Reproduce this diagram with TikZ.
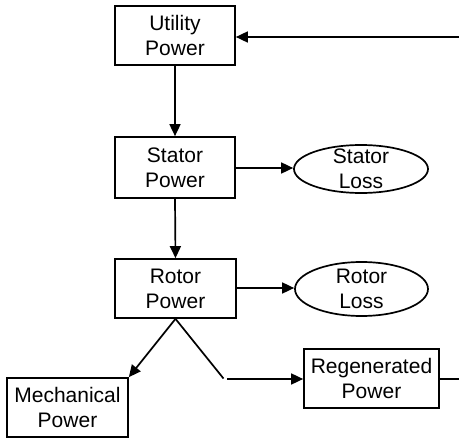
\documentclass[tikz,border=0pt]{standalone}
\usepackage{fontspec}
\setmainfont{Liberation Sans}
\usetikzlibrary{shapes.geometric,arrows.meta}
\begin{document}
\begin{tikzpicture}[x=1pt,y=-1pt,
  box/.style={draw,line width=1.7pt,rectangle,align=center,inner sep=0pt,font=\fontsize{21}{25}\selectfont},
  oval/.style={draw,line width=1.7pt,ellipse,align=center,inner sep=0pt,font=\fontsize{21}{25}\selectfont},
  arr/.style={line width=1.7pt,-{Triangle[length=12pt,width=11pt]}},
  ln/.style={line width=1.7pt}]
\useasboundingbox (0,0) rectangle (459,439);
\node[box,minimum width=120pt,minimum height=59pt] (util) at (175,35.5) {Utility\\Power};
\node[box,minimum width=120pt,minimum height=61pt] (stator) at (175,167.5) {Stator\\Power};
\node[oval,minimum width=134pt,minimum height=48pt,text height=0pt,text depth=0pt] (sloss) at (361,169) {};
\node[font=\fontsize{21}{25}\selectfont,align=center] at (sloss) {Stator\\Loss};
\node[box,minimum width=121pt,minimum height=59pt] (rotor) at (175.5,288.5) {Rotor\\Power};
\node[oval,minimum width=133pt,minimum height=54pt,text height=0pt,text depth=0pt] (rloss) at (361.5,289) {};
\node[font=\fontsize{21}{25}\selectfont,align=center] at (rloss) {Rotor\\Loss};
\node[box,minimum width=121pt,minimum height=59pt] (mech) at (67.5,407.5) {Mechanical\\Power};
\node[box,minimum width=135pt,minimum height=59pt] (regen) at (371.5,378.5) {Regenerated\\Power};
\coordinate (fbin) at (460,37);
\coordinate (fbout) at (460,379);
\coordinate (kneeA) at (223.5,378.5);
\coordinate (kneeB) at (227,379);
\draw[arr] (fbin) -- (util.east |- fbin);
\draw[arr] (util.south) -- (stator.north);
\draw[arr] (stator.east |- 0,168) -- (sloss.west |- 0,168);
\draw[arr] (stator.south) -- (rotor.north);
\draw[arr] (rotor.east |- 0,288) -- (rloss.west |- 0,288);
\draw[arr] (rotor.south) -- (mech.north east);
\draw[ln] (rotor.south) -- (kneeA);
\draw[arr] (kneeB) -- (regen.west |- kneeB);
\draw[ln] (regen.east |- fbout) -- (fbout);
\end{tikzpicture}
\end{document}
